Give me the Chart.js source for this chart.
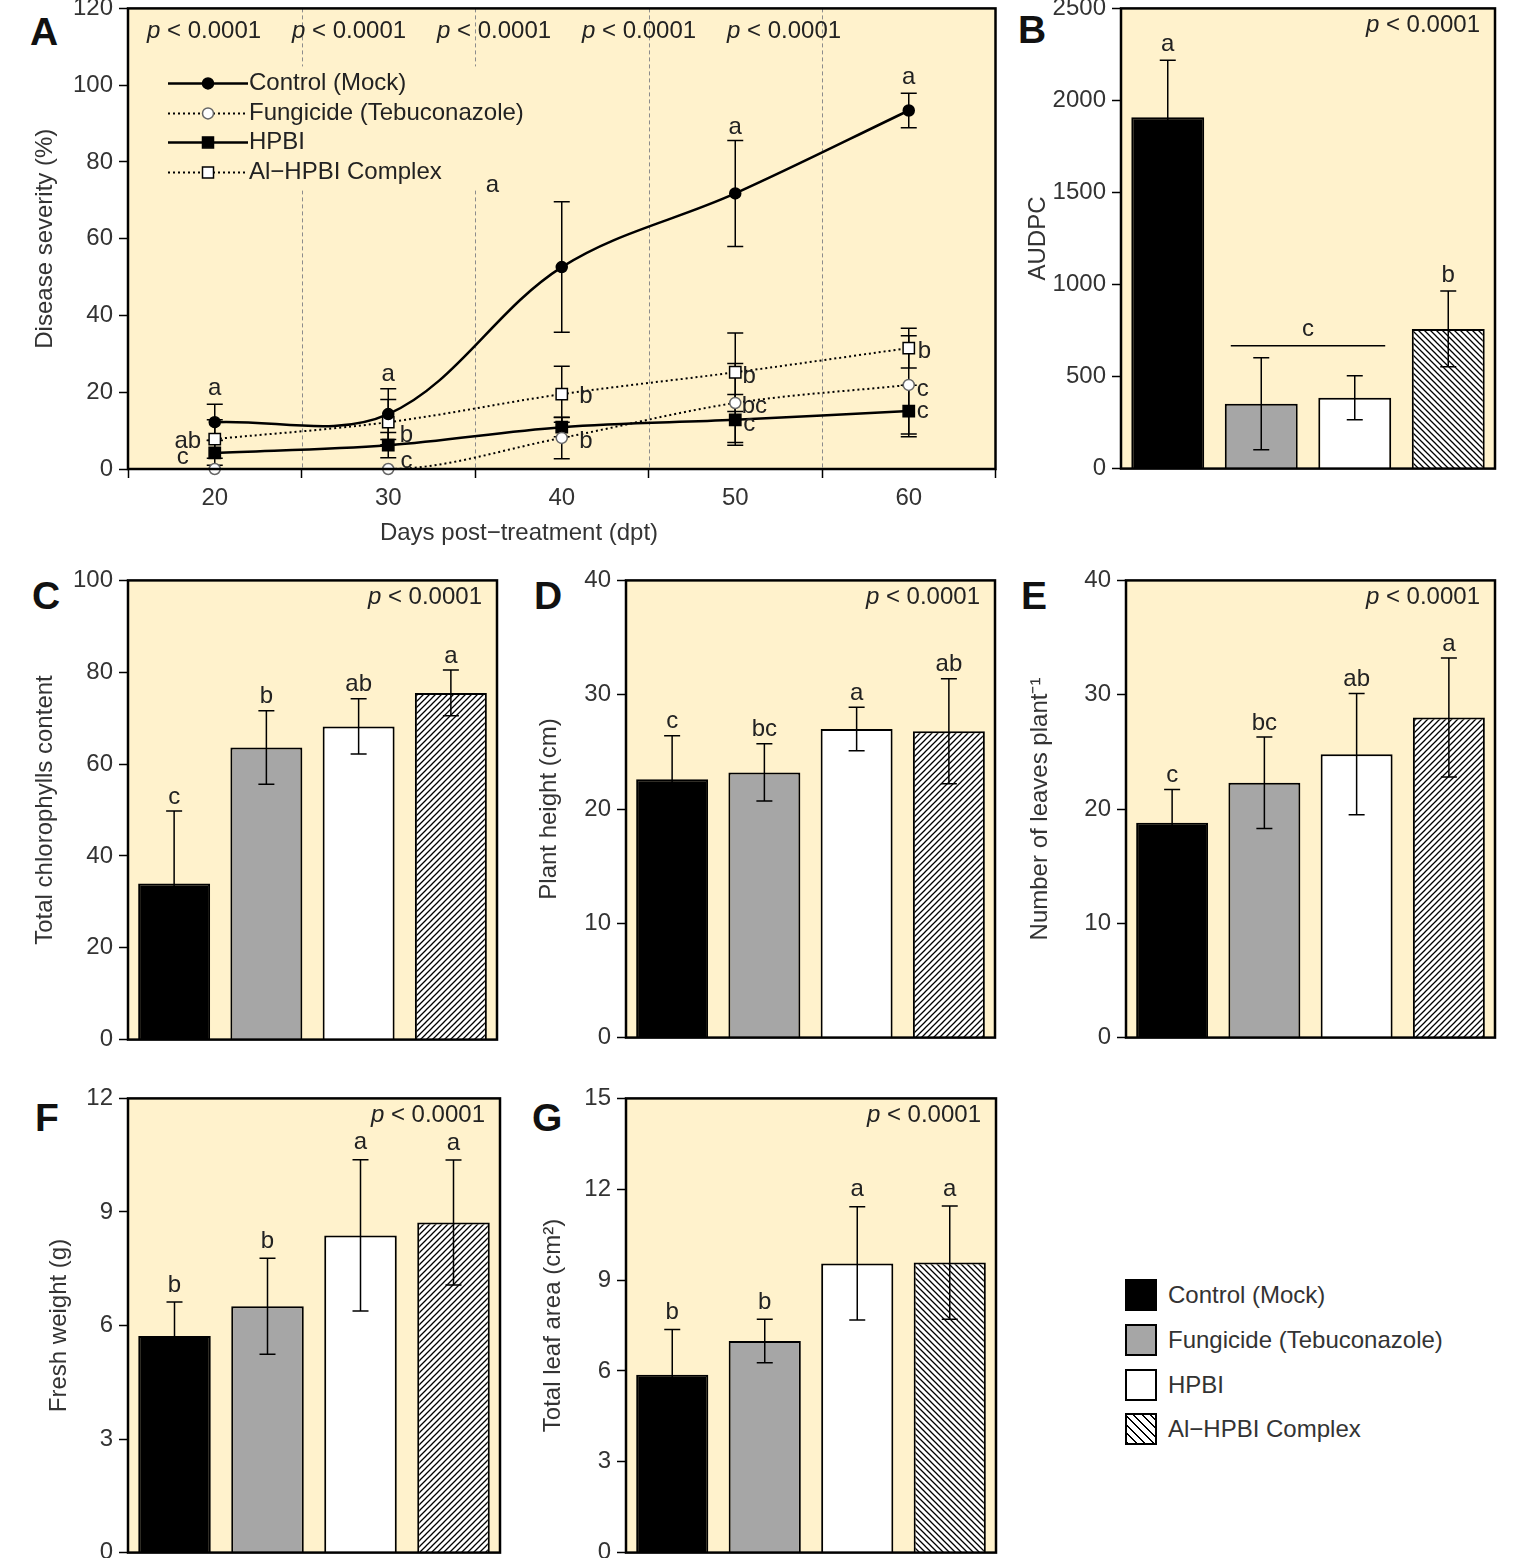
<!DOCTYPE html>
<html>
<head>
<meta charset="utf-8">
<script src="https://cdn.jsdelivr.net/npm/chart.js@4.4.1/dist/chart.umd.min.js"></script>
<style>
  html, body { margin: 0; padding: 0; background: #fff; }
  body { position: relative; width: 1520px; height: 1558px; overflow: hidden; font-family: 'Liberation Sans', Arial, sans-serif; }
  .tag { position: absolute; font-weight: bold; font-size: 39px; line-height: 1; color: #111; }
  .row { position: absolute; left: 1125px; height: 32px; display: flex; align-items: center; font-size: 24px; color: #333; white-space: nowrap; }
  .sw { width: 28px; height: 28px; border: 2px solid #000; margin-right: 11px; }
</style>
</head>
<body>
<div class="tag" style="left:30px;top:12px">A</div>
<div class="tag" style="left:1018px;top:10px">B</div>
<div class="tag" style="left:32px;top:576px">C</div>
<div class="tag" style="left:534px;top:576px">D</div>
<div class="tag" style="left:1021px;top:576px">E</div>
<div class="tag" style="left:35px;top:1098px">F</div>
<div class="tag" style="left:532px;top:1098px">G</div>

<div class="row" style="top:1279px"><div class="sw" style="background:#000"></div>Control (Mock)</div>
<div class="row" style="top:1324px"><div class="sw" style="background:#A6A6A6"></div>Fungicide (Tebuconazole)</div>
<div class="row" style="top:1369px"><div class="sw" style="background:#fff"></div>HPBI</div>
<div class="row" style="top:1413px"><div class="sw" style="background:repeating-linear-gradient(45deg,#000 0 1.4px,#fff 1.4px 6px)"></div>Al−HPBI Complex</div>

<script>
// ---- data ----
const groups = ["Control (Mock)", "Fungicide (Tebuconazole)", "HPBI", "Al\u2212HPBI Complex"];
const days = [20, 30, 40, 50, 60];

const sevControl = [12.2, 14.3, 52.6, 71.8, 93.4];
const sevControlErr = [4.7, 6.6, 17.0, 13.8, 4.5];
const sevFungicide = [0, 0, 8.1, 17.2, 21.9];
const sevFungicideErr = [0, 0, 5.4, 10.3, 12.8];
const sevHPBI = [4.2, 6.2, 10.9, 12.8, 15.1];
const sevHPBIErr = [3.2, 3.3, 2.5, 6.6, 6.7];
const sevComplex = [7.8, 12.2, 19.5, 25.2, 31.5];
const sevComplexErr = [5.0, 5.9, 7.3, 10.2, 5.2];

// letters of panel A, anchored in data units (day, severity)
const sevLetterText = ['a', 'ab', 'c', 'a', 'b', 'c', 'a', 'b', 'b', 'a', 'b', 'bc', 'c', 'a', 'b', 'c', 'c'];
const sevLetterDay = [20, 18.45, 18.15, 30, 31.05, 31.05, 36.0, 41.4, 41.4, 50, 50.8, 51.1, 50.8, 60, 60.9, 60.8, 60.8];
const sevLetterY = [21.1, 7.3, 2.9, 24.7, 8.8, 2.1, 73.9, 19.0, 7.3, 89, 24.2, 16.4, 11.7, 102, 30.7, 20.8, 15.1];

const audpc = [1909, 352, 385, 759];
const audpcErr = [309, 250, 120, 206];
const audpcLetters = ['a', '', '', 'b'];

const chlorophyll = [34.0, 63.6, 68.2, 75.5];
const chlorophyllErr = [15.8, 8.0, 6.0, 5.0];
const chlorophyllLetters = ['c', 'b', 'ab', 'a'];

const plantHeight = [22.6, 23.2, 27.0, 26.8];
const plantHeightErr = [3.8, 2.5, 1.9, 4.6];
const plantHeightLetters = ['c', 'bc', 'a', 'ab'];

const leaves = [18.8, 22.3, 24.8, 28.0];
const leavesErr = [2.9, 4.0, 5.3, 5.2];
const leavesLetters = ['c', 'bc', 'ab', 'a'];

const freshWeight = [5.72, 6.51, 8.38, 8.72];
const freshWeightErr = [0.9, 1.27, 2.0, 1.65];
const freshWeightLetters = ['b', 'b', 'a', 'a'];

const leafArea = [5.87, 6.99, 9.55, 9.58];
const leafAreaErr = [1.5, 0.72, 1.87, 1.87];
const leafAreaLetters = ['b', 'b', 'a', 'a'];

// ---- look ----
const cream = '#FFF2CC';
const fontMain = "'Liberation Sans', Arial, sans-serif";
const fontNarrow = "'Liberation Sans Narrow', 'Arial Narrow', 'Liberation Sans', sans-serif";
Chart.defaults.font.family = fontMain;
Chart.defaults.font.size = 24;
Chart.defaults.color = '#333';

function addCanvas(box) {
  const cv = document.createElement('canvas');
  cv.width = box.w;
  cv.height = box.h;
  cv.style.position = 'absolute';
  cv.style.left = box.x + 'px';
  cv.style.top = box.y + 'px';
  cv.style.width = box.w + 'px';
  cv.style.height = box.h + 'px';
  document.body.appendChild(cv);
  return cv;
}

function makeHatch(ctx, dir) {
  const s = 6;
  const c = document.createElement('canvas');
  c.width = s; c.height = s;
  const g = c.getContext('2d');
  g.fillStyle = '#fff';
  g.fillRect(0, 0, s, s);
  g.strokeStyle = '#000';
  g.lineWidth = 1.3;
  g.beginPath();
  if (dir === '/') {
    g.moveTo(-1, s + 1); g.lineTo(s + 1, -1);
    g.moveTo(-1, 1); g.lineTo(1, -1);
    g.moveTo(s - 1, s + 1); g.lineTo(s + 1, s - 1);
  } else {
    g.moveTo(-1, -1); g.lineTo(s + 1, s + 1);
    g.moveTo(s - 1, -1); g.lineTo(s + 1, 1);
    g.moveTo(-1, s - 1); g.lineTo(1, s + 1);
  }
  g.stroke();
  return ctx.createPattern(c, 'repeat');
}

function pText(c, x, y, family, align) {
  c.save();
  c.fillStyle = '#222';
  c.textBaseline = 'middle';
  c.textAlign = 'left';
  const fi = 'italic 24px ' + family, fn = '24px ' + family;
  const rest = ' < 0.0001';
  c.font = fi; const w1 = c.measureText('p').width;
  c.font = fn; const w2 = c.measureText(rest).width;
  const x0 = align === 'right' ? x - w1 - w2 : x;
  c.font = fi; c.fillText('p', x0, y);
  c.font = fn; c.fillText(rest, x0 + w1, y);
  c.restore();
}

function errBar(c, x, yTop, yBot, cap) {
  c.beginPath();
  c.moveTo(x, yTop); c.lineTo(x, yBot);
  c.moveTo(x - cap, yTop); c.lineTo(x + cap, yTop);
  c.moveTo(x - cap, yBot); c.lineTo(x + cap, yBot);
  c.stroke();
}

const framePlugin = {
  id: 'frame',
  beforeDraw(chart) {
    const a = chart.chartArea, c = chart.ctx;
    c.save();
    c.fillStyle = cream;
    c.fillRect(a.left, a.top, a.right - a.left, a.bottom - a.top);
    c.restore();
  },
  afterDraw(chart) {
    const a = chart.chartArea, c = chart.ctx;
    c.save();
    c.strokeStyle = '#000';
    c.lineWidth = 2.5;
    c.strokeRect(a.left, a.top, a.right - a.left, a.bottom - a.top);
    c.restore();
  }
};

function yAxis(max, step, title, titlePad, width, tickFamily) {
  return {
    min: 0, max: max,
    ticks: { stepSize: step, padding: 6, color: '#333', font: { size: 24, family: tickFamily },
             callback: v => String(v) },
    grid: { drawOnChartArea: false, tickLength: 9, tickColor: '#000', tickWidth: 1.5 },
    border: { display: false },
    title: { display: true, text: title, color: '#333', font: { size: 24, family: fontMain }, padding: { top: titlePad, bottom: 0 } },
    afterFit: s => { s.width = width; }
  };
}

// ---- panel A ----
function buildA() {
  const box = { x: 0, y: -12, w: 1005, h: 567 };
  const plot = { L: 128, T: 8, R: 997, B: 469 };
  const cv = addCanvas(box);
  const pts = vals => days.map((d, i) => ({ x: d, y: vals[i] }));
  const errs = [sevControlErr, sevFungicideErr, sevHPBIErr, sevComplexErr];
  const styles = [
    { dash: [], lw: 2.5, fill: '#000', edge: '#000', shape: 'circle', r: 5.5, mode: 'default' },
    { dash: [2, 3], lw: 2, fill: '#fff', edge: '#666', shape: 'circle', r: 5.5, mode: 'monotone' },
    { dash: [], lw: 2.5, fill: '#000', edge: '#000', shape: 'rect', r: 8, mode: 'default' },
    { dash: [2, 3], lw: 2, fill: '#fff', edge: '#000', shape: 'rect', r: 8, mode: 'default' }
  ];
  const series = [sevControl, sevFungicide, sevHPBI, sevComplex];

  const decoA = {
    id: 'decoA',
    beforeDatasetsDraw(chart) {
      const c = chart.ctx, a = chart.chartArea, xs = chart.scales.x, ys = chart.scales.y;
      c.save();
      // dashed separators between sampling days
      c.strokeStyle = '#8c8c8c';
      c.lineWidth = 1;
      c.setLineDash([4, 3]);
      [25, 35, 45, 55].forEach(v => {
        const px = Math.round(xs.getPixelForValue(v)) + 0.5;
        c.beginPath(); c.moveTo(px, a.top); c.lineTo(px, a.bottom); c.stroke();
      });
      c.setLineDash([]);
      // legend background
      c.fillStyle = cream;
      c.fillRect(a.left + 37, a.top + 58, 370, 124);
      // error bars
      c.strokeStyle = '#000';
      c.lineWidth = 1.5;
      series.forEach((vals, k) => {
        vals.forEach((v, i) => {
          const e = errs[k][i];
          if (!e) return;
          errBar(c, xs.getPixelForValue(days[i]), ys.getPixelForValue(v + e), ys.getPixelForValue(Math.max(v - e, 0)), 8);
        });
      });
      c.restore();
    },
    afterDatasetsDraw(chart) {
      const c = chart.ctx, a = chart.chartArea, xs = chart.scales.x, ys = chart.scales.y;
      c.save();
      c.fillStyle = '#222';
      c.font = '24px ' + fontMain;
      c.textAlign = 'center';
      c.textBaseline = 'middle';
      sevLetterText.forEach((t, i) => {
        c.fillText(t, xs.getPixelForValue(sevLetterDay[i]), ys.getPixelForValue(sevLetterY[i]));
      });
      for (let i = 0; i < 5; i++) pText(c, a.left + 19 + i * 145, a.top + 23, fontMain, 'left');
      // legend inside the plot
      const rows = [75, 105, 134, 164];
      groups.forEach((g, k) => {
        const st = styles[k], y = a.top + rows[k];
        c.strokeStyle = '#000';
        c.lineWidth = st.lw;
        c.setLineDash(st.dash);
        c.beginPath(); c.moveTo(a.left + 40, y); c.lineTo(a.left + 120, y); c.stroke();
        c.setLineDash([]);
        c.fillStyle = st.fill;
        c.strokeStyle = st.edge;
        c.lineWidth = 1.5;
        c.beginPath();
        if (st.shape === 'circle') c.arc(a.left + 80, y, st.r, 0, Math.PI * 2);
        else c.rect(a.left + 80 - 5.5, y - 5.5, 11, 11);
        c.fill(); c.stroke();
        c.fillStyle = '#222';
        c.textAlign = 'left';
        c.fillText(g, a.left + 121, y);
      });
      // x axis title
      c.textAlign = 'center';
      c.fillStyle = '#333';
      c.fillText('Days post\u2212treatment (dpt)', 519, a.bottom + 64);
      c.restore();
    }
  };

  new Chart(cv, {
    type: 'line',
    data: {
      datasets: series.map((vals, k) => ({
        label: groups[k],
        data: pts(vals),
        borderColor: '#000',
        borderWidth: styles[k].lw,
        borderDash: styles[k].dash,
        tension: 0.35,
        cubicInterpolationMode: styles[k].mode,
        clip: 9,
        pointStyle: styles[k].shape,
        pointRadius: styles[k].r,
        pointBackgroundColor: styles[k].fill,
        pointBorderColor: styles[k].edge,
        pointBorderWidth: 1.5
      }))
    },
    options: {
      responsive: false,
      animation: false,
      events: [],
      layout: { padding: { left: 0, top: plot.T - box.y, right: box.x + box.w - plot.R, bottom: 0 } },
      plugins: { legend: { display: false }, tooltip: { enabled: false } },
      scales: {
        x: {
          type: 'linear', min: 15, max: 65,
          ticks: { stepSize: 5, autoSkip: false, padding: 6, color: '#333', font: { size: 24 },
                   callback: v => (v % 10 === 0 ? String(v) : '') },
          grid: { drawOnChartArea: false, tickLength: 9, tickWidth: 1.5,
                  tickColor: ctx => (ctx.tick && ctx.tick.value % 10 === 5 ? '#000' : 'rgba(0,0,0,0)') },
          border: { display: false },
          afterFit: s => { s.height = box.y + box.h - plot.B; }
        },
        y: yAxis(120, 20, 'Disease severity (%)', 30.6, plot.L - box.x, fontMain)
      }
    },
    plugins: [framePlugin, decoA]
  });
}

// ---- bar panels ----
function buildBars(p) {
  const cv = addCanvas(p.box);
  const ctx = cv.getContext('2d');
  const fills = ['#000000', '#A6A6A6', '#FFFFFF', makeHatch(ctx, p.hatch)];
  const deco = {
    id: 'deco',
    afterDatasetsDraw(chart) {
      const c = chart.ctx, a = chart.chartArea, ys = chart.scales.y;
      const bars = chart.getDatasetMeta(0).data;
      c.save();
      c.strokeStyle = '#000';
      c.lineWidth = 1.5;
      c.fillStyle = '#222';
      c.font = '24px ' + p.font;
      c.textAlign = 'center';
      c.textBaseline = 'middle';
      bars.forEach((bar, i) => {
        const v = p.values[i], e = p.errs[i];
        const top = ys.getPixelForValue(v + e);
        errBar(c, bar.x, top, ys.getPixelForValue(v - e), 8);
        if (p.letters[i]) c.fillText(p.letters[i], bar.x, top - p.gap);
      });
      if (p.group) {
        const g = p.group, b1 = bars[g.from], b2 = bars[g.to];
        const y = ys.getPixelForValue(g.value);
        c.beginPath();
        c.moveTo(b1.x - b1.width / 2 + 6, y); c.lineTo(b2.x + b2.width / 2 - 6, y);
        c.stroke();
        c.fillText(g.text, (b1.x + b2.x) / 2, y - 16);
      }
      pText(c, a.right - 15, a.top + 17, p.font, 'right');
      c.restore();
    }
  };
  new Chart(cv, {
    type: 'bar',
    data: {
      labels: groups,
      datasets: [{
        data: p.values,
        backgroundColor: fills,
        borderColor: '#000',
        borderWidth: 2,
        categoryPercentage: 0.78,
        barPercentage: 1
      }]
    },
    options: {
      responsive: false,
      animation: false,
      events: [],
      layout: { padding: { left: 0, top: p.plot.T - p.box.y, right: p.box.x + p.box.w - p.plot.R, bottom: p.box.y + p.box.h - p.plot.B } },
      plugins: { legend: { display: false }, tooltip: { enabled: false } },
      scales: {
        x: { display: false },
        y: yAxis(p.max, p.step, p.title, p.titlePad, p.plot.L - p.box.x, p.font)
      }
    },
    plugins: [framePlugin, deco]
  });
}

buildA();

buildBars({ box: { x: 1010, y: -12, w: 500, h: 501 }, plot: { L: 1121, T: 8, R: 1495, B: 469 },
  values: audpc, errs: audpcErr, letters: audpcLetters, max: 2500, step: 500, title: 'AUDPC', titlePad: 13.6,
  hatch: '\\', font: fontMain, gap: 16, group: { from: 1, to: 2, value: 667, text: 'c' } });

buildBars({ box: { x: 0, y: 560, w: 505, h: 500 }, plot: { L: 128, T: 578, R: 497, B: 1040 },
  values: chlorophyll, errs: chlorophyllErr, letters: chlorophyllLetters, max: 100, step: 20,
  title: 'Total chlorophylls content', titlePad: 30.6, hatch: '/', font: fontMain, gap: 14 });

buildBars({ box: { x: 505, y: 560, w: 500, h: 498 }, plot: { L: 626, T: 578, R: 995, B: 1038 },
  values: plantHeight, errs: plantHeightErr, letters: plantHeightLetters, max: 40, step: 10,
  title: 'Plant height (cm)', titlePad: 29.6, hatch: '/', font: fontMain, gap: 14 });

buildBars({ box: { x: 1005, y: 560, w: 505, h: 498 }, plot: { L: 1126, T: 578, R: 1495, B: 1038 },
  values: leaves, errs: leavesErr, letters: leavesLetters, max: 40, step: 10,
  title: 'Number of leaves plant\u207B\u00B9', titlePad: 20.6, hatch: '/', font: fontMain, gap: 14 });

buildBars({ box: { x: 0, y: 1078, w: 505, h: 495 }, plot: { L: 128, T: 1096, R: 500, B: 1553 },
  values: freshWeight, errs: freshWeightErr, letters: freshWeightLetters, max: 12, step: 3,
  title: 'Fresh weight (g)', titlePad: 44.6, hatch: '/', font: fontNarrow, gap: 17 });

buildBars({ box: { x: 505, y: 1078, w: 500, h: 495 }, plot: { L: 626, T: 1096, R: 996, B: 1553 },
  values: leafArea, errs: leafAreaErr, letters: leafAreaLetters, max: 15, step: 3,
  title: 'Total leaf area (cm\u00B2)', titlePad: 33.6, hatch: '\\', font: fontNarrow, gap: 17 });
</script>
</body>
</html>
